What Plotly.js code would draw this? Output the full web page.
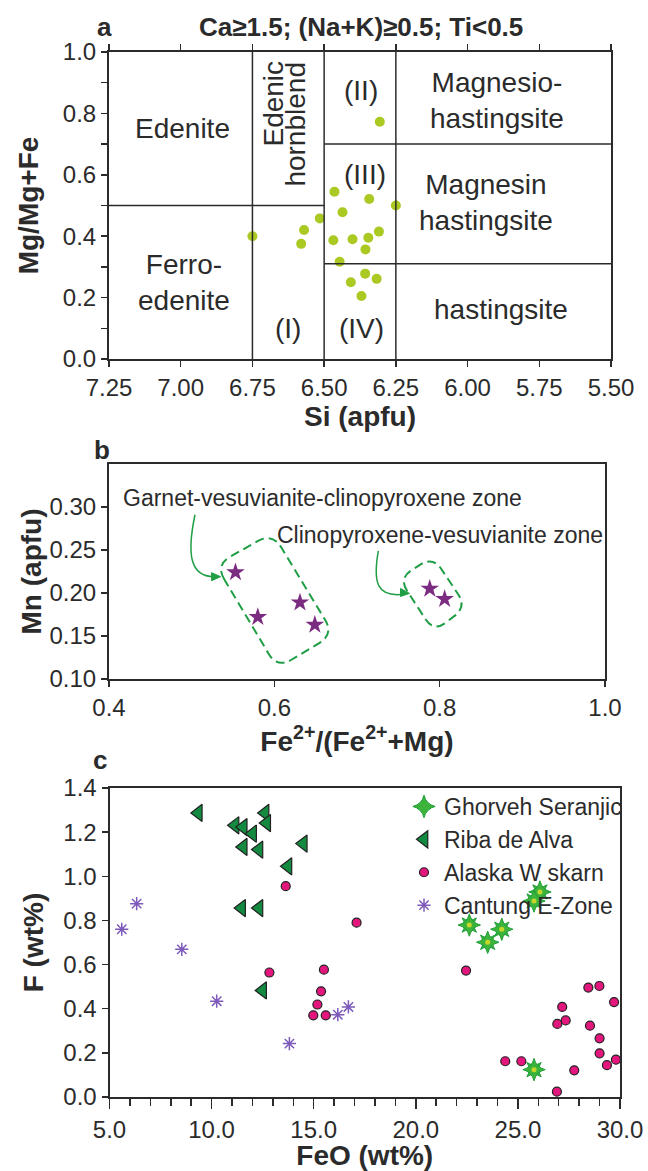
<!DOCTYPE html>
<html><head><meta charset="utf-8">
<script src="https://cdn.plot.ly/plotly-3.0.1.min.js"></script>
<style>html,body{margin:0;padding:0;background:#fff}#chart{width:648px;height:1171px}</style>
</head><body><div id="chart"></div>
<script>
// ---------- Panel a : amphibole classification ----------
const siA = [6.75,6.57,6.58,6.515,6.464,6.436,6.343,6.25,6.468,6.401,6.346,6.309,6.356,6.446,6.357,6.317,6.407,6.370,6.306];
const mgA = [0.40,0.42,0.375,0.458,0.545,0.478,0.521,0.50,0.387,0.390,0.395,0.415,0.357,0.317,0.278,0.261,0.250,0.205,0.773];
const aTickVals = [7.25,7.00,6.75,6.50,6.25,6.00,5.75,5.50];
const aFieldText = ['Edenite','Edenic','hornblend','(II)','Magnesio-<br>hastingsite','(III)','Magnesin<br>hastingsite','Ferro-<br>edenite','(I)','(IV)','hastingsite'];
const aFieldSi  = [6.995,6.675,6.600,6.37,5.899,6.359,5.935,6.990,6.627,6.37,5.885];
const aFieldMg  = [0.751,0.832,0.765,0.876,0.841,0.60,0.511,0.248,0.10,0.10,0.16];
const aFieldRot = [0,-90,-90,0,0,0,0,0,0,0,0];
// boundary lines [x0,y0,x1,y1]
const aBounds = [[6.75,0,6.75,1],[6.50,0,6.50,1],[6.25,0,6.25,1],[7.25,0.5,6.50,0.5],[6.50,0.7,5.50,0.7],[6.50,0.31,5.50,0.31]];

// ---------- Panel b ----------
const feB = [0.553,0.580,0.631,0.649,0.788,0.806];
const mnB = [0.224,0.172,0.189,0.163,0.205,0.193];
const bTickVals = [0.10,0.15,0.20,0.25,0.30];
const zone1X = [0.529,0.5977,0.672,0.6036], zone1Y = [0.2327,0.270,0.152,0.1125];
const zone2X = [0.7507,0.7919,0.8324,0.7928], zone2Y = [0.2172,0.2424,0.184,0.1548];

// ---------- Panel c ----------
const ghorvehFeO = [26.08,25.79,22.62,24.21,23.52,25.79];
const ghorvehF   = [0.929,0.888,0.779,0.760,0.701,0.124];
const ribaFeO = [9.35,11.15,11.55,12.01,12.62,12.70,11.55,12.32,14.49,13.74,11.47,12.32,12.50];
const ribaF   = [1.287,1.231,1.223,1.193,1.287,1.241,1.133,1.121,1.148,1.045,0.856,0.856,0.483];
const alaskaFeO = [13.63,17.10,12.83,15.50,15.36,15.18,14.98,15.59,22.46,28.45,28.99,29.71,27.17,27.34,26.93,28.53,29.00,29.00,29.80,29.36,27.76,24.38,25.17,26.91];
const alaskaF   = [0.955,0.790,0.564,0.577,0.479,0.419,0.370,0.370,0.573,0.496,0.503,0.430,0.408,0.347,0.331,0.323,0.266,0.198,0.169,0.144,0.121,0.162,0.162,0.024];
const cantungFeO = [5.60,6.33,8.54,10.25,13.81,16.18,16.70];
const cantungF   = [0.760,0.876,0.669,0.434,0.242,0.373,0.408];

// ---------- layout helpers ----------
const W = 648, H = 1171;
const dx = (l, r) => [l / W, r / W];
const dy = (t, b) => [1 - b / H, 1 - t / H];
const FONT = 'Liberation Sans, Arial, Helvetica, sans-serif';
const INK = '#2b2b2b';
const GREEN = '#1f9e45';

const ax = (o) => Object.assign({
  showline: true, linecolor: INK, linewidth: 2, mirror: true,
  ticks: 'outside', ticklen: 6, tickwidth: 1.5, tickcolor: INK,
  showgrid: false, zeroline: false, fixedrange: true,
  tickfont: {family: FONT, size: 24, color: INK}
}, o);

const titleFont = {family: FONT, size: 28, color: INK, weight: 'bold'};

// rounded (rotated) rectangle in data space
function roundedPath(cx, cy, rpx, sx, sy) {
  const n = cx.length; let d = '';
  for (let i = 0; i < n; i++) {
    const p = (i - 1 + n) % n, q = (i + 1) % n;
    const lp = Math.hypot((cx[p]-cx[i])*sx, (cy[p]-cy[i])*sy);
    const lq = Math.hypot((cx[q]-cx[i])*sx, (cy[q]-cy[i])*sy);
    const fp = rpx / lp, fq = rpx / lq;
    const a1 = cx[i] + (cx[p]-cx[i])*fp, b1 = cy[i] + (cy[p]-cy[i])*fp;
    const a2 = cx[i] + (cx[q]-cx[i])*fq, b2 = cy[i] + (cy[q]-cy[i])*fq;
    d += (i === 0 ? 'M' : 'L') + a1 + ',' + b1 + ' Q' + cx[i] + ',' + cy[i] + ' ' + a2 + ',' + b2 + ' ';
  }
  return d + 'Z';
}
const bxDom = dx(109, 605), byDom = dy(464, 679);
const bsx = (bxDom[1]-bxDom[0]) * W / 0.6, bsy = (byDom[1]-byDom[0]) * H / 0.25;
// arrowhead pointing right (slightly tilted) at tip, size in px
function arrowHead(tx, ty, len, half, tilt) {
  const bxp = tx - len / bsx, byp = ty - tilt / bsy;
  return 'M' + tx + ',' + ty + ' L' + bxp + ',' + (byp + half / bsy) + ' L' + bxp + ',' + (byp - half / bsy) + ' Z';
}

// ---------- traces ----------
const traces = [
  {x: siA, y: mgA, xaxis: 'x', yaxis: 'y', type: 'scatter', mode: 'markers', showlegend: false,
   marker: {color: '#abc923', size: 10, line: {width: 0}}},
  {x: feB, y: mnB, xaxis: 'x2', yaxis: 'y2', type: 'scatter', mode: 'markers', showlegend: false,
   marker: {symbol: 'star', color: '#7b2b80', size: 14, line: {width: 0}}},
  // panel c
  {x: ghorvehFeO, y: ghorvehF, xaxis: 'x3', yaxis: 'y3', type: 'scatter', mode: 'markers', showlegend: false,
   legendgroup: 'g', marker: {symbol: 'star-square', color: '#3cb43c', size: 13, line: {width: 1, color: '#1f9e3a'}}},
  {x: ghorvehFeO, y: ghorvehF, xaxis: 'x3', yaxis: 'y3', type: 'scatter', mode: 'markers', name: 'Ghorveh Seranjic',
   legendgroup: 'g', marker: {symbol: 'star-diamond', color: '#3cb43c', size: 16, line: {width: 1, color: '#1f9e3a'}}},
  {x: ghorvehFeO, y: ghorvehF, xaxis: 'x3', yaxis: 'y3', type: 'scatter', mode: 'markers', showlegend: false,
   legendgroup: 'g', marker: {symbol: 'circle', color: '#c6d62a', size: 5, line: {width: 0}}},
  {x: ribaFeO, y: ribaF, xaxis: 'x3', yaxis: 'y3', type: 'scatter', mode: 'markers', name: 'Riba de Alva',
   marker: {symbol: 'triangle-left', color: '#138a3f', size: 15, line: {width: 1.2, color: '#222'}}},
  {x: alaskaFeO, y: alaskaF, xaxis: 'x3', yaxis: 'y3', type: 'scatter', mode: 'markers', name: 'Alaska W skarn',
   marker: {symbol: 'circle', color: '#e2167c', size: 9, line: {width: 1.2, color: '#222'}}},
  {x: cantungFeO, y: cantungF, xaxis: 'x3', yaxis: 'y3', type: 'scatter', mode: 'markers', name: 'Cantung E-Zone',
   marker: {symbol: 'asterisk-open', color: '#7e5bbb', size: 11, line: {width: 1.5, color: '#7e5bbb'}}}
];

// ---------- shapes ----------
const shapes = aBounds.map(b => ({type: 'line', xref: 'x', yref: 'y', x0: b[0], y0: b[1], x1: b[2], y1: b[3],
  line: {color: INK, width: 1.5}}));
shapes.push({type: 'path', xref: 'x2', yref: 'y2', path: roundedPath(zone1X, zone1Y, 17, bsx, bsy),
  line: {color: GREEN, width: 2, dash: '9px,5px'}});
shapes.push({type: 'path', xref: 'x2', yref: 'y2', path: roundedPath(zone2X, zone2Y, 15, bsx, bsy),
  line: {color: GREEN, width: 2, dash: '9px,5px'}});
shapes.push({type: 'path', xref: 'x2', yref: 'y2', path: 'M0.504,0.291 C0.494,0.245 0.498,0.219 0.527,0.219',
  line: {color: GREEN, width: 1.5}});
shapes.push({type: 'path', xref: 'x2', yref: 'y2', path: 'M0.7258,0.249 C0.719,0.212 0.724,0.195 0.756,0.1985',
  line: {color: GREEN, width: 1.5}});
shapes.push({type: 'path', xref: 'x2', yref: 'y2', path: arrowHead(0.535, 0.219, 9, 4, 0),
  fillcolor: GREEN, line: {color: GREEN, width: 1}});
shapes.push({type: 'path', xref: 'x2', yref: 'y2', path: arrowHead(0.7635, 0.1995, 9, 4, -1),
  fillcolor: GREEN, line: {color: GREEN, width: 1}});

// ---------- annotations ----------
const annotations = [];
aFieldText.forEach((t, i) => annotations.push({
  xref: 'x', yref: 'y', x: aFieldSi[i], y: aFieldMg[i], text: t, showarrow: false,
  textangle: aFieldRot[i], font: {family: FONT, size: 28, color: INK}
}));
const pap = (px, py) => ({xref: 'paper', yref: 'paper', x: px / W, y: 1 - py / H, xanchor: 'center', yanchor: 'middle'});
const boldLbl = {family: FONT, size: 26, color: INK, weight: 'bold'};
annotations.push(Object.assign(pap(104, 27), {text: 'a', showarrow: false, font: boldLbl}));
annotations.push(Object.assign(pap(361, 27), {text: 'Ca≥1.5; (Na+K)≥0.5; Ti<0.5', showarrow: false,
  font: {family: FONT, size: 26, color: INK, weight: 'bold'}}));
annotations.push(Object.assign(pap(102, 450), {text: 'b', showarrow: false, font: boldLbl}));
annotations.push(Object.assign(pap(100, 760), {text: 'c', showarrow: false, font: boldLbl}));
annotations.push({xref: 'x2', yref: 'y2', x: 0.658, y: 0.3105, text: 'Garnet-vesuvianite-clinopyroxene zone',
  showarrow: false, font: {family: FONT, size: 23, color: INK}});
annotations.push({xref: 'x2', yref: 'y2', x: 0.800, y: 0.267, text: 'Clinopyroxene-vesuvianite zone',
  showarrow: false, font: {family: FONT, size: 23, color: INK}});

const layout = {
  width: W, height: H, margin: {l: 0, r: 0, t: 0, b: 0},
  paper_bgcolor: '#fff', plot_bgcolor: '#fff',
  font: {family: FONT, color: INK},
  showlegend: true,
  xaxis: ax({domain: dx(109, 611), range: [7.25, 5.50], tickvals: aTickVals, tickformat: '.2f', mirror: 'ticks',
    title: {text: 'Si (apfu)', font: titleFont, standoff: 4}}),
  yaxis: ax({domain: dy(52, 359), range: [0, 1], dtick: 0.2, tick0: 0, tickformat: '.1f',
    minor: {dtick: 0.1, ticklen: 6, tickwidth: 1.5, tickcolor: INK, ticks: 'outside'},
    title: {text: 'Mg/Mg+Fe', font: titleFont, standoff: 16}}),
  xaxis2: ax({domain: bxDom, range: [0.4, 1.0], dtick: 0.2, tick0: 0.4, tickformat: '.1f', anchor: 'y2',
    title: {text: 'Fe<sup>2+</sup>/(Fe<sup>2+</sup>+Mg)', font: titleFont, standoff: 6}}),
  yaxis2: ax({domain: byDom, range: [0.10, 0.35], tickvals: bTickVals, tickformat: '.2f', anchor: 'x2',
    title: {text: 'Mn (apfu)', font: titleFont, standoff: 0}}),
  xaxis3: ax({domain: dx(109.5, 620), range: [5, 30], dtick: 5, tick0: 5, tickformat: '.1f', anchor: 'y3', ticklen: 10,
    minor: {dtick: 1, ticklen: 7, tickwidth: 1.5, tickcolor: INK, ticks: 'outside'},
    title: {text: 'FeO (wt%)', font: titleFont, standoff: 9}}),
  yaxis3: ax({domain: dy(788, 1097), range: [0, 1.4], dtick: 0.2, tick0: 0, tickformat: '.1f', anchor: 'x3',
    title: {text: 'F (wt%)', font: titleFont, standoff: 12}}),
  legend: {x: 404 / W, y: 1 - 785 / H, xanchor: 'left', yanchor: 'top', bgcolor: 'rgba(0,0,0,0)',
    font: {family: FONT, size: 23, color: INK}, tracegroupgap: 0, itemwidth: 30},
  shapes: shapes, annotations: annotations
};

Plotly.newPlot('chart', traces, layout, {staticPlot: true, displayModeBar: false});
</script></body></html>
